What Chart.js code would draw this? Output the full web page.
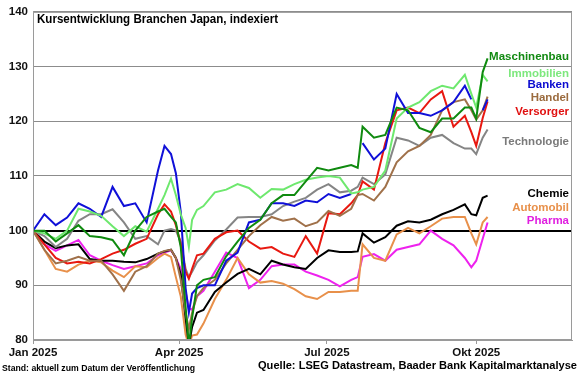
<!DOCTYPE html>
<html>
<head>
<meta charset="utf-8">
<script src="https://cdn.jsdelivr.net/npm/chart.js@4"></script>
<style>
  html, body { margin: 0; padding: 0; background: #fff; }
  #wrap { width: 580px; height: 375px; }
</style>
</head>
<body>
<div id="wrap"><canvas id="chart" width="580" height="375"></canvas></div>
<script>
// ── Data (index, 1 Jan 2025 = 100), x in days since 1 Jan 2025 ────────────────
const days = [0,7,14,21,28,35,42,49,56,63,70,77,81,85,88,91,94,96,98,101,105,
  112,119,126,133,140,147,154,161,168,175,182,189,196,200,203,
  210,217,224,231,238,245,252,259,266,270,273,277,280];

const maschinenbau = [100,100,98,99.5,101,99,98.8,98.3,95.5,100,102.5,103.5,104,102.5,101.5,97,86,79,84,90,91,
  91.5,95.3,98,100.5,102,105,106.5,106.5,109,111.5,111,111.5,112,111.5,119,
  117,117.5,122.5,122,118.8,118,120.5,120.5,122.5,122.5,120.5,129,131.5];
const immobilien = [100,99.5,98.5,100,104,103.5,102.7,100.8,99,100.8,99.8,104,106.5,109.5,106.5,103,100.5,97,102,103.8,104.5,
  107,107.5,108.5,107.8,106,107.6,107.5,108.5,109.3,109.7,110,109.7,106.8,107,107.5,
  108,111,120.5,122.5,123.5,125.5,126.5,126,128.5,125,122.5,128.5,127.3];
const banken = [100,103,101,102.4,105,104,102.5,108,104.5,105,101.5,111,115.5,114,110.5,103.5,89.5,85,88.5,89.5,90,
  90,94.5,96,101.5,102,105,105,104.5,105.5,105.2,106.7,106,106.7,null,116,
  113,115,125,121.5,121.5,121,122,123.5,126.5,124,null,122,124];
const handel = [100,96.5,94,94.5,95.2,94.5,94.5,92,89,92.5,93.5,95.8,96.3,96.5,95,91,85,82,85,88,89.5,
  91,94,96.5,99,101,102.5,101.8,102.2,100.8,101.5,103.6,102.7,104,106.5,106.7,
  105.5,108,112.5,114.5,115.5,117.5,122,123.5,124,122,120.3,122,124.5];
const versorger = [100,97.5,95,94,94.3,94,94.8,95.8,96.5,97.6,98.5,103,104.8,103.5,101,97.6,92.5,91.2,93,95.5,95.8,
  98.5,99.7,100,98,96.7,97,95.8,95.2,99,95.8,103.2,103,105,106.5,109,
  107.5,116,122,122.5,121.5,124,125.5,119,121,118,115.5,120.6,123.6];
const technologie = [100,99,97,98.5,101.8,103,103,103.9,101.5,98.5,99,97.5,100,100.3,100,98,93,91.5,92.5,94.2,95.5,
  98.2,100.2,102.4,102.5,102.5,103,104.5,105.3,106,107.5,108.5,107,107.3,108,109.7,
  108.5,110.3,117,116.5,115.5,117,117.5,116,115,115,114,117,118.5];
const chemie = [100,98,96.8,97.3,97.5,94.8,94.5,94.5,94.3,94.2,94.8,95.8,96.2,96.5,95,92,84,79,82.4,85,85.5,
  88.8,90.5,92.1,93,92,94.5,93.8,93.3,93,95,96.4,96.1,96.1,96.2,99.5,
  97.8,98.8,100.9,101.7,101.5,102,103,103.8,104.8,103,102.8,106,106.4];
const automobil = [100,96.5,93,92.5,93.8,94.5,94.2,92.7,91.5,93.5,93.3,95,95.8,95.2,91.5,88,81,79,80.8,81,83,
  87.5,91,95,92,90.5,90.8,90.3,89.3,88,87.5,88.8,88.8,89,89,97.5,
  95,94.5,99.3,100.5,99.5,100.8,102.2,102.5,102.5,99.5,97.5,101.5,102.5];
const pharma = [100,97.5,96.3,97.3,98.3,95.5,94.5,93.7,93,93.5,94,95.5,96,96.4,95,93,88.8,85.8,85.5,88,89,
  92.5,96,95,89.5,91,93.5,93.8,93.8,92.5,91.8,91,89.8,91,91.5,95.2,
  95.7,94.5,96.5,97,97.5,100,98.5,97.3,95,93.3,94.5,98.5,101.5];

const seriesNames = ['Maschinenbau','Immobilien','Banken','Handel','Versorger','Technologie','Chemie','Automobil','Pharma'];
const seriesData  = [maschinenbau, immobilien, banken, handel, versorger, technologie, chemie, automobil, pharma];

const tickDays   = [0, 90, 181, 273];
const tickLabels = ['Jan 2025', 'Apr 2025', 'Jul 2025', 'Okt 2025'];

const TITLE  = 'Kursentwicklung Branchen Japan, indexiert';
const STAND  = 'Stand: aktuell zum Datum der Veröffentlichung';
const QUELLE = 'Quelle: LSEG Datastream, Baader Bank Kapitalmarktanalyse';

// ── Styling ────────────────────────────────────────────────────────────────
const FONT = "'Liberation Sans', Arial, sans-serif";
const lineColors  = ['#0f8a0f','#6ee86e','#1010d8','#a0714a','#e81810','#858585','#000000','#e8904a','#ee22ee'];
const labelColors = ['#128a12','#7de87d','#0a0ad0','#9b6b3e','#e01010','#7a7a7a','#000000','#e8904a','#e020e0'];
const labelAt     = [131.8, 128.6, 126.6, 124.2, 121.8, 116.3, 106.8, 104.2, 101.8];  // y-value of end labels

// draw text squeezed/stretched to a given width
function fitText(ctx, text, x, y, width, align) {
  const w = ctx.measureText(text).width;
  const s = width / w;
  ctx.save();
  ctx.translate(x, y);
  ctx.scale(s, 1);
  ctx.textAlign = align;
  ctx.fillText(text, 0, 0);
  ctx.restore();
}

const overlay = {
  id: 'overlay',
  afterDraw(chart) {
    const { ctx, chartArea: a, scales: { y } } = chart;
    ctx.save();
    ctx.strokeStyle = '#9a9a9a';
    ctx.lineWidth = 1;
    ctx.strokeRect(a.left + 0.5, a.top + 0.5, a.width - 1, a.height - 1);

    ctx.fillStyle = '#000';
    ctx.textBaseline = 'middle';
    ctx.font = `bold 12.5px ${FONT}`;
    fitText(ctx, TITLE, a.left + 4, a.top + 8, 241, 'left');

    ctx.textAlign = 'right';
    ctx.font = `bold 11.5px ${FONT}`;
    seriesNames.forEach((n, i) => {
      ctx.fillStyle = labelColors[i];
      ctx.fillText(n, a.right - 3, y.getPixelForValue(labelAt[i]));
    });

    ctx.fillStyle = '#000';
    ctx.font = `bold 9.5px ${FONT}`;
    fitText(ctx, STAND, 2, 368, 193, 'left');
    ctx.font = `bold 11.5px ${FONT}`;
    fitText(ctx, QUELLE, 577, 366, 319, 'right');
    ctx.restore();
  }
};

new Chart(document.getElementById('chart').getContext('2d'), {
  type: 'line',
  data: {
    datasets: seriesNames.map((name, i) => ({
      label: name,
      data: days.map((d, k) => ({ x: d, y: seriesData[i][k] })),
      borderColor: lineColors[i],
      backgroundColor: lineColors[i],
      borderWidth: 2,
      pointRadius: 0,
      tension: 0,
      fill: false,
      spanGaps: false,
    }))
  },
  options: {
    responsive: false,
    devicePixelRatio: 1,
    animation: false,
    layout: { padding: { top: 10, right: 8, left: 0, bottom: 0 } },
    plugins: { legend: { display: false }, tooltip: { enabled: false } },
    scales: {
      x: {
        type: 'linear', min: 0, max: 332,
        afterBuildTicks: axis => { axis.ticks = tickDays.map(v => ({ value: v })); },
        afterFit: scale => { scale.height = 35; },
        ticks: {
          color: '#111', padding: 2, maxRotation: 0, autoSkip: false,
          font: { family: FONT, size: 11.5, weight: 'bold' },
          callback: v => tickLabels[tickDays.indexOf(v)] ?? ''
        },
        grid: { drawOnChartArea: false, drawTicks: true, tickLength: 4, color: '#9a9a9a' },
        border: { color: '#9a9a9a' }
      },
      y: {
        min: 80, max: 140,
        afterFit: scale => { scale.width = 33; },
        ticks: {
          stepSize: 10, color: '#111', padding: 5,
          font: { family: FONT, size: 11.5, weight: 'bold' }
        },
        grid: {
          drawTicks: false,
          color: ctx => ctx.tick && ctx.tick.value === 100 ? '#000' : '#8c8c8c',
          lineWidth: ctx => ctx.tick && ctx.tick.value === 100 ? 2 : 1
        },
        border: { color: '#9a9a9a' }
      }
    }
  },
  plugins: [overlay]
});
</script>
</body>
</html>
